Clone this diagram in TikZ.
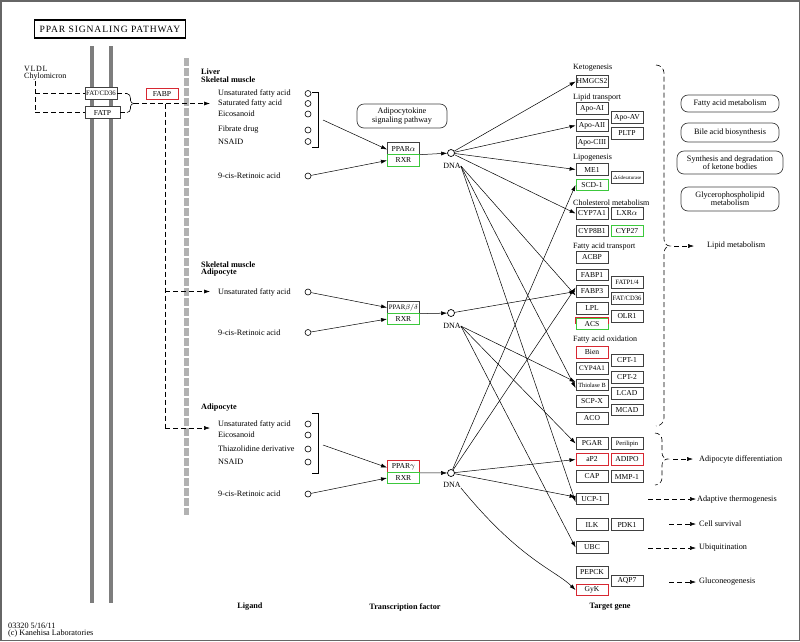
\documentclass[tikz,border=0pt]{standalone}
\usepackage{fontspec}
\setmainfont{Liberation Serif}
\usetikzlibrary{arrows.meta}
\definecolor{kgreen}{RGB}{60,200,60}
\definecolor{kred}{RGB}{215,40,50}
\definecolor{kgray}{RGB}{125,125,125}
\begin{document}
\begin{tikzpicture}[x=1pt,y=-1pt,
  gene/.style={draw=black!75,fill=white,line width=0.8pt,minimum width=32pt,minimum height=11.5pt,inner sep=0pt,font=\fontsize{7.6}{8}\selectfont},
  rgene/.style={gene,draw=kred,line width=1pt},
  ggene/.style={gene,draw=kgreen,line width=1pt},
  lig/.style={anchor=west,inner sep=0pt,font=\fontsize{8.2}{9}\selectfont},
  grp/.style={anchor=west,inner sep=0pt,font=\fontsize{8}{9}\selectfont},
  bhead/.style={anchor=west,inner sep=0pt,font=\bfseries\fontsize{8.2}{9}\selectfont},
  lc/.style={circle,draw,line width=0.6pt,inner sep=0pt,minimum size=6pt},
  dnac/.style={circle,draw,line width=0.7pt,inner sep=0pt,minimum size=7pt},
  dnal/.style={inner sep=0pt,font=\fontsize{8}{9}\selectfont},
  arr/.style={-{Latex[length=6pt,width=4pt]},line width=0.5pt},
  dsh/.style={dash pattern=on 5pt off 3pt,line width=0.6pt},
  pbox/.style={draw=black!75,line width=0.7pt,rounded corners=7pt,align=center,inner sep=0pt,font=\fontsize{8.2}{8.2}\selectfont},
  brk/.style={line width=0.6pt},
  foot/.style={inner sep=0pt,font=\bfseries\fontsize{8.2}{9}\selectfont}
]
\useasboundingbox (0,0) rectangle (800,641);
\draw[black!60,line width=1.5pt] (0.75,0.75) rectangle (799.25,640.25);

% title
\node[draw,line width=1.8pt,minimum width=151pt,minimum height=18pt,inner sep=0pt,font=\fontsize{9.6}{10}\selectfont\addfontfeature{LetterSpace=9}] (title) at (110,29) {PPAR SIGNALING PATHWAY};

% membranes and bar
\draw[kgray,line width=3.5pt] (92,46) -- (92,603);
\draw[kgray,line width=3.5pt] (111,46) -- (111,603);
\draw[black!30,line width=5pt,dash pattern=on 8pt off 2pt] (186,58) -- (186,515);

% left entry
\node[anchor=west,inner sep=0pt,font=\fontsize{8}{8}\selectfont\addfontfeature{LetterSpace=8}] (vldl) at (24,69) {VLDL};
\node[anchor=west,inner sep=0pt,font=\fontsize{8}{8}\selectfont] (chylo) at (24,76.5) {Chylomicron};
\node[gene,font=\fontsize{6.8}{7}\selectfont] (fatcd) at (101,93.5) {FAT/CD36};
\node[gene,minimum width=35pt] (fatp) at (102.5,112.5) {FATP};
\node[rgene] (fabp) at (162,94) {FABP};
\coordinate (va) at (35,81);
\coordinate (vb) at (35,93.5);
\coordinate (vc) at (35,112.5);
\draw[dsh] (va) -- (vc);
\draw[dsh] (vb) -- (fatcd.west);
\draw[dsh] (vc) -- (fatp.west);
\coordinate (ja) at (127,93.5);
\coordinate (jb) at (127,112.5);
\coordinate (jc) at (134,103.5);
\draw[dsh] (fatcd.east) -- (ja);
\draw[dsh] (fatp.east) -- (jb);
\draw[brk] (ja) to[out=0,in=90] (130.5,98.5) -- (130.5,100.5) to[out=270,in=180] (jc);
\draw[brk] (jb) to[out=0,in=270] (130.5,108.5) -- (130.5,106.5) to[out=90,in=180] (jc);
\coordinate (lv) at (165,103.5);
\coordinate (lvm) at (165,291.5);
\coordinate (lvb) at (165,428);
\coordinate (la1) at (210,103.5);
\coordinate (la2) at (210,291.5);
\coordinate (la3) at (210,428);
\draw[dsh,arr] (jc) -- (la1);
\draw[dsh] (lv) -- (lvb);
\draw[dsh,arr] (lvm) -- (la2);
\draw[dsh,arr] (lvb) -- (la3);

% ---- Liver
\node[bhead] (h1a) at (201,72) {Liver};
\node[bhead] (h1b) at (201,79.5) {Skeletal muscle};
\node[lig] (l11) at (218,93.5) {Unsaturated fatty acid};
\node[lig] (l12) at (218,103.5) {Saturated fatty acid};
\node[lig] (l13) at (218,114) {Eicosanoid};
\node[lig] (l14) at (218,130) {Fibrate drug};
\node[lig] (l15) at (218,141.5) {NSAID};
\node[lig] (l16) at (218,176) {9-cis-Retinoic acid};
\foreach \y/\n in {93.5/c11,103.5/c12,114/c13,130/c14,141.5/c15,176/c16} \node[lc] (\n) at (308,\y) {};
\draw[brk] (312,92) -- (318,92) -- (318,147) -- (312,147);
\coordinate (b1) at (323,120);
\node[gene] (ppara) at (403.5,148.5) {PPAR$\alpha$};
\node[ggene] (rxr1) at (403.5,160.5) {RXR};
\node[pbox,minimum width=90pt,minimum height=24pt] (adi) at (402,116) {Adipocytokine\\signaling pathway};
\draw[arr] (b1) -- ([yshift=-1pt]ppara.west);
\draw[arr] (c16) -- (rxr1.west);
\node[dnac] (dna1) at (451,153) {};
\node[dnal] (d1l) at (452,166) {DNA};
\draw[arr] (ppara.south east) -- (dna1);

% ---- Skeletal muscle / Adipocyte
\node[bhead] (h2a) at (201,265) {Skeletal muscle};
\node[bhead] (h2b) at (201,273) {Adipocyte};
\node[lig] (l21) at (218,292) {Unsaturated fatty acid};
\node[lig] (l22) at (218,333) {9-cis-Retinoic acid};
\node[lc] (c21) at (308,292) {};
\node[lc] (c22) at (308,332.5) {};
\node[gene,font=\fontsize{6.8}{7}\selectfont] (ppard) at (403.5,307.5) {PPAR$\beta/\delta$};
\node[ggene] (rxr2) at (403.5,319) {RXR};
\draw[arr] (c21) -- (ppard.west);
\draw[arr] (c22) -- (rxr2.west);
\node[dnac] (dna2) at (451,313) {};
\node[dnal] (d2l) at (452,326) {DNA};
\draw[arr] (ppard.south east) -- (dna2);

% ---- Adipocyte
\node[bhead] (h3a) at (201,408) {Adipocyte};
\node[lig] (l31) at (218,424) {Unsaturated fatty acid};
\node[lig] (l32) at (218,435) {Eicosanoid};
\node[lig] (l33) at (218,449) {Thiazolidine derivative};
\node[lig] (l34) at (218,462) {NSAID};
\node[lig] (l35) at (218,494) {9-cis-Retinoic acid};
\foreach \y/\n in {424/c31,435/c32,449/c33,462/c34,494/c35} \node[lc] (\n) at (308,\y) {};
\draw[brk] (312,413) -- (318,413) -- (318,473) -- (312,473);
\coordinate (b3) at (323,445);
\node[rgene] (pparg) at (403.5,466.5) {PPAR$\gamma$};
\node[ggene] (rxr3) at (403.5,478) {RXR};
\draw[arr] (b3) -- ([yshift=-1pt]pparg.west);
\draw[arr] (c35) -- (rxr3.west);
\node[dnac] (dna3) at (451,473) {};
\node[dnal] (d3l) at (452,485) {DNA};
\draw[arr] (pparg.south east) -- (dna3);

% ---- Target genes
\node[grp] (g1) at (573,68) {Ketogenesis};
\node[gene] (hmgcs2) at (592,81.5) {HMGCS2};
\node[grp] (g2) at (573,98) {Lipid transport};
\node[gene] (apoai) at (592,108.5) {Apo-AI};
\node[gene] (apoaii) at (592,125.5) {Apo-AII};
\node[gene] (apociii) at (592,142.5) {Apo-CIII};
\node[gene] (apoav) at (627,117.5) {Apo-AV};
\node[gene] (pltp) at (627,133.5) {PLTP};
\node[grp] (g3) at (573,158) {Lipogenesis};
\node[gene] (me1) at (592,169.5) {ME1};
\node[gene,font=\fontsize{5}{5}\selectfont] (d6) at (627,177.5) {$\Delta$6desaturase};
\node[ggene] (scd1) at (592,185) {SCD-1};
\node[grp] (g4) at (573,203) {Cholesterol metabolism};
\node[gene] (cyp7a1) at (592,213.5) {CYP7A1};
\node[gene] (lxra) at (627,213.5) {LXR$\alpha$};
\node[gene] (cyp8b1) at (592,231) {CYP8B1};
\node[ggene] (cyp27) at (627,231) {CYP27};
\node[grp] (g5) at (573,247) {Fatty acid transport};
\node[gene] (acbp) at (592,257.5) {ACBP};
\node[gene] (fabp1) at (592,275) {FABP1};
\node[gene] (fabp3) at (592,291.5) {FABP3};
\node[gene,font=\fontsize{6.6}{7}\selectfont] (fatp14) at (627,282.5) {FATP1/4};
\node[gene,font=\fontsize{6.6}{7}\selectfont] (fatcd2) at (627,298.5) {FAT/CD36};
\node[gene] (lpl) at (592,308.5) {LPL};
\node[gene] (olr1) at (627,316.5) {OLR1};
\node[ggene] (acs) at (592,324) {ACS};
\draw[kred,line width=1pt] (acs.west) -- (acs.north west) -- (acs.north east) -- (acs.east);
\node[grp] (g6) at (573,340) {Fatty acid oxidation};
\node[rgene] (bien) at (592,352.5) {Bien};
\node[gene] (cpt1) at (627,360.5) {CPT-1};
\node[gene,font=\fontsize{7}{7}\selectfont] (cyp4a1) at (592,368.5) {CYP4A1};
\node[gene] (cpt2) at (627,377.5) {CPT-2};
\node[gene,font=\fontsize{6.3}{7}\selectfont] (thiob) at (592,385) {Thiolase B};
\node[gene] (lcad) at (627,393.5) {LCAD};
\node[gene] (scpx) at (592,401.5) {SCP-X};
\node[gene] (mcad) at (627,410) {MCAD};
\node[gene] (aco) at (592,418.5) {ACO};
\node[gene] (pgar) at (592,443.5) {PGAR};
\node[gene,font=\fontsize{6.5}{7}\selectfont] (peri) at (627,443.5) {Perilipin};
\node[rgene] (ap2) at (592,459.5) {aP2};
\node[rgene] (adipo) at (627,459.5) {ADIPO};
\node[gene] (cap) at (592,476.5) {CAP};
\node[gene] (mmp1) at (627,476.5) {MMP-1};
\node[gene] (ucp1) at (592,499) {UCP-1};
\node[gene] (ilk) at (592,524.5) {ILK};
\node[gene] (pdk1) at (627,524.5) {PDK1};
\node[gene] (ubc) at (592,547.5) {UBC};
\node[gene] (pepck) at (592,572.5) {PEPCK};
\node[rgene] (gyk) at (592,590) {GyK};
\node[gene] (aqp7) at (627,581) {AQP7};

% ---- DNA -> targets
\draw[arr] (dna1) -- (hmgcs2.west);
\draw[arr] (dna1) -- (apoaii.west);
\draw[arr] (dna1) -- (me1.west);
\draw[arr] (dna1) -- (cyp7a1.west);
\draw[arr] (d1l.east) -- ([yshift=-4pt]fabp3.west);
\draw[arr] (d1l.east) -- ([yshift=-3pt]thiob.west);
\draw[arr] (d1l.east) -- ([yshift=-3pt]ucp1.west);
\draw[arr] (dna2) -- (fabp3.west);
\draw[arr] (d2l.east) -- ([yshift=3pt]thiob.west);
\draw[arr] (d2l.east) -- (pgar.west);
\draw[arr] (d2l.east) -- (ubc.west);
\draw[arr] (dna3) -- (scd1.west);
\draw[arr] (dna3) -- ([yshift=4pt]fabp3.west);
\draw[arr] (dna3) -- (ap2.west);
\draw[arr] (dna3) -- ([yshift=2pt]ucp1.west);
\draw[arr] (d3l.south east) .. controls (520,560) and (555,570) .. (gyk.west);

% ---- right side
\node[pbox,minimum width=98pt,minimum height=17pt] (fam) at (730,103.5) {Fatty acid metabolism};
\node[pbox,minimum width=98pt,minimum height=19pt] (bab) at (730,132.5) {Bile acid biosynthesis};
\node[pbox,minimum width=106pt,minimum height=23pt] (skb) at (730,162.5) {Synthesis and degradation\\of ketone bodies};
\node[pbox,minimum width=98pt,minimum height=24pt] (gpm) at (730,199) {Glycerophospholipid\\metabolism};

\draw[dsh] (656,65) to[out=0,in=90] (664,73) -- (664,239) to[out=270,in=180] (670,246) to[out=180,in=90] (664,253) -- (664,418) to[out=270,in=0] (656,426);
\coordinate (lm0) at (674,246);
\coordinate (lm1) at (694,246);
\draw[dsh,arr] (lm0) -- (lm1);
\node[lig] (lmt) at (707,246) {Lipid metabolism};

\draw[dsh] (655,433) to[out=0,in=90] (662,440) -- (662,453) to[out=270,in=180] (668,459) to[out=180,in=90] (662,465) -- (662,478) to[out=270,in=0] (655,485);
\coordinate (ad0) at (673,459);
\coordinate (ad1) at (693,459);
\draw[dsh,arr] (ad0) -- (ad1);
\node[lig] (adt) at (699,459) {Adipocyte differentiation};

\coordinate (at0) at (648,499);
\coordinate (at1) at (696,499);
\draw[dsh,arr] (at0) -- (at1);
\node[lig] (att) at (697,500) {Adaptive thermogenesis};
\coordinate (cs0) at (669,524);
\coordinate (cs1) at (696,524);
\draw[dsh,arr] (cs0) -- (cs1);
\node[lig] (cst) at (699,524) {Cell survival};
\coordinate (ub0) at (648,548);
\coordinate (ub1) at (696,548);
\draw[dsh,arr] (ub0) -- (ub1);
\node[lig] (ubt) at (699,548) {Ubiquitination};
\coordinate (gn0) at (669,582);
\coordinate (gn1) at (696,582);
\draw[dsh,arr] (gn0) -- (gn1);
\node[lig] (gnt) at (699,582) {Gluconeogenesis};

% bottom
\node[foot] (ligand) at (250,607) {Ligand};
\node[foot] (tf) at (405,607) {Transcription factor};
\node[foot] (tg) at (610,607) {Target gene};
\node[anchor=west,inner sep=0pt,font=\fontsize{8.2}{8}\selectfont] (id) at (8,625.5) {03320 5/16/11};
\node[anchor=west,inner sep=0pt,font=\fontsize{8.2}{8}\selectfont] (copy) at (8,633.5) {(c) Kanehisa Laboratories};
\end{tikzpicture}
\end{document}
